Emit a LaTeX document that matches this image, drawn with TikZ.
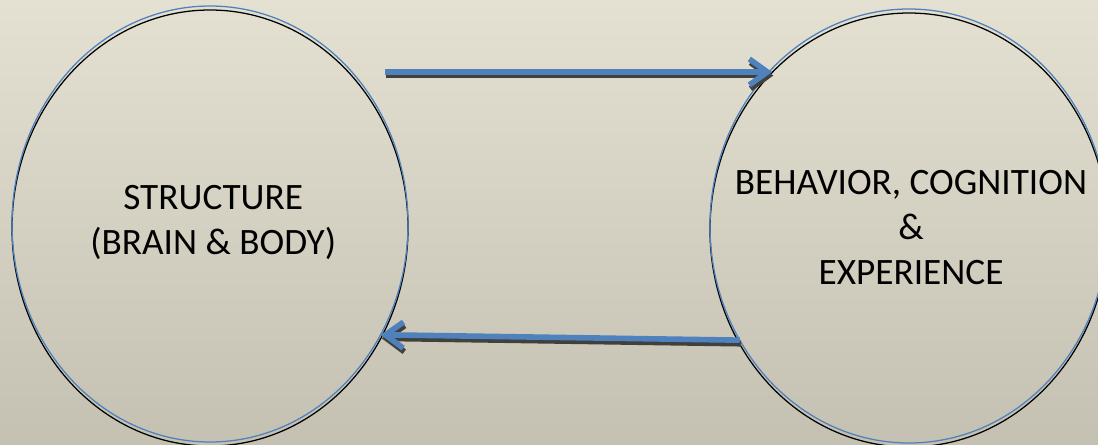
\documentclass[tikz,border=0pt]{standalone}
\usepackage{fontspec}
\setmainfont{Carlito}
\usepackage{xcolor}
\usetikzlibrary{shapes.geometric,arrows.meta,shadows}
\definecolor{bgtop}{RGB}{228,225,210}
\definecolor{bgbottom}{RGB}{197,193,178}
\definecolor{rimblue}{RGB}{79,129,189}
\definecolor{flowgray}{RGB}{64,64,60}
\tikzset{bubble/.style={ellipse, draw=rimblue, line width=0.9pt, inner sep=0pt, outer sep=0pt,
    drop shadow={draw=black, fill=none, opacity=1, shadow xshift=0cm, shadow yshift=-0.1cm}},
  bubbletext/.style={align=center, font=\fontsize{26.5}{32}\selectfont},
  flow/.style={draw=rimblue, line width=0.14cm, -{Straight Barb[length=0.45cm, width=0.65cm]}},
  flowshadow/.style={flow, draw=flowgray, transform canvas={xshift=0.03cm, yshift=-0.09cm}}}

\begin{document}
\begin{tikzpicture}
%%% fond
\shade[top color=bgtop, bottom color=bgbottom] (0,0) rectangle (27.45,11.1);
\useasboundingbox (0,0) rectangle (27.45,11.1);

%%% cercles
\node[bubble, minimum width=9.9cm, minimum height=10.9cm,
  label={[bubbletext, xshift=0.08cm, yshift=0.05cm]center:STRUCTURE\\(BRAIN \& BODY)}] (struct) at (5.25,5.5) {};
\node[bubble, minimum width=9.95cm, minimum height=10.85cm,
  label={[bubbletext, xshift=0.05cm, yshift=-0.05cm]center:BEHAVIOR, COGNITION\\\&\\EXPERIENCE}] (behav) at (22.725,5.45) {};

%%% fleches
\coordinate (start) at (9.625,9.3);
\draw[flowshadow] (start) -- (start -| behav.131);
\draw[flow] (start) -- (start -| behav.131);
\draw[flowshadow] (behav.214) -- (struct.-33);
\draw[flow] (behav.214) -- (struct.-33);
\end{tikzpicture}
\end{document}
